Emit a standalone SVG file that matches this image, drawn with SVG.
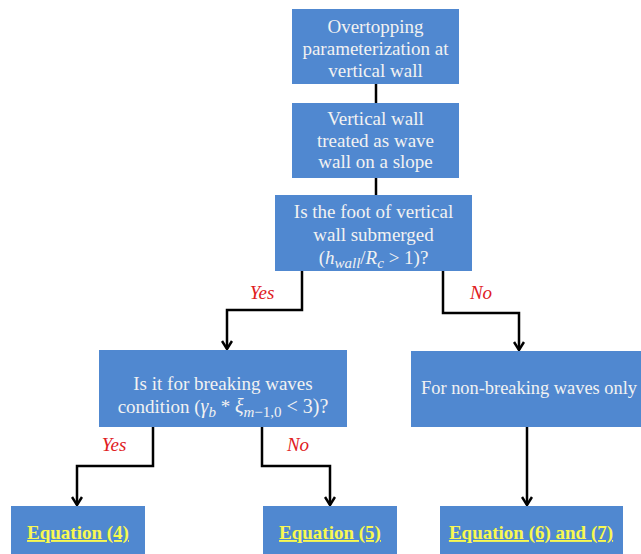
<svg xmlns="http://www.w3.org/2000/svg" width="641" height="554" viewBox="0 0 641 554">
<defs>
<style>
.box{fill:#5088D0;}
.t{font-family:"Liberation Serif","Times New Roman",serif;font-size:19px;fill:#F2F2F2;text-anchor:middle;}
.i{font-style:italic;}
.eq{font-family:"Liberation Serif","Times New Roman",serif;font-size:19px;font-weight:bold;fill:#F8F850;text-anchor:middle;text-decoration:underline;}
.lbl{font-family:"Liberation Serif","Times New Roman",serif;font-size:19px;font-style:italic;fill:#E0201E;text-anchor:middle;}
.c{fill:none;stroke:#000;stroke-width:2.5;}
</style>
<marker id="arr" viewBox="0 0 12 10" refX="6" refY="9" markerWidth="12" markerHeight="10" markerUnits="userSpaceOnUse" orient="0">
<path d="M1,1 L6,9 L11,1" fill="none" stroke="#000" stroke-width="2.5"/>
</marker>
</defs>
<rect width="641" height="554" fill="#fff"/>
<g id="connectors">
<line class="c" x1="376" y1="84" x2="376" y2="103"/>
<line class="c" x1="376" y1="178" x2="376" y2="195"/>
<path class="c" d="M302,271 V310 H227 V349" marker-end="url(#arr)"/>
<path class="c" d="M443,271 V313 H519 V350" marker-end="url(#arr)"/>
<path class="c" d="M153,427 V466 H77 V505" marker-end="url(#arr)"/>
<path class="c" d="M262,427 V466 H330 V505" marker-end="url(#arr)"/>
<path class="c" d="M527,427 V505" marker-end="url(#arr)"/>
<text class="lbl" x="262" y="299">Yes</text>
<text class="lbl" x="481" y="299">No</text>
<text class="lbl" x="114" y="451">Yes</text>
<text class="lbl" x="298" y="451">No</text>
</g>
<g id="n1">
<rect class="box" x="292" y="9" width="167" height="75"/>
<text class="t" x="375.5" y="33">Overtopping</text>
<text class="t" x="375.5" y="55">parameterization at</text>
<text class="t" x="375.5" y="77">vertical wall</text>
</g>
<g id="n2">
<rect class="box" x="292" y="103" width="167" height="75"/>
<text class="t" x="375.5" y="125">Vertical wall</text>
<text class="t" x="375.5" y="147">treated as wave</text>
<text class="t" x="375.5" y="168">wall on a slope</text>
</g>
<g id="n3">
<rect class="box" x="275" y="195" width="197" height="76"/>
<text class="t" x="373.5" y="218">Is the foot of vertical</text>
<text class="t" x="373.5" y="241">wall submerged</text>
<text class="t" x="373.5" y="264" font-size="20">(<tspan class="i">h</tspan><tspan class="i" font-size="15" dy="4">wall</tspan><tspan dy="-4">/</tspan><tspan class="i">R</tspan><tspan class="i" font-size="15" dy="4">c</tspan><tspan dy="-4"> &gt; 1)?</tspan></text>
</g>
<g id="n4">
<rect class="box" x="99" y="350" width="248" height="77"/>
<text class="t" x="223" y="390">Is it for breaking waves</text>
<text class="t" x="223" y="413">condition (<tspan class="i" font-size="20">γ</tspan><tspan class="i" font-size="15" dy="4">b</tspan><tspan dy="-4"> * </tspan><tspan class="i" font-size="20">ξ</tspan><tspan class="i" font-size="15" dy="4">m</tspan><tspan font-size="15">−1,0</tspan><tspan dy="-4" font-size="20"> &lt; 3)?</tspan></text>
</g>
<g id="n5">
<rect class="box" x="411" y="351" width="240" height="76"/>
<text class="t" x="421" y="394" style="text-anchor:start;font-size:18.4px">For non-breaking waves only</text>
</g>
<g id="n6">
<rect class="box" x="11" y="506" width="134" height="60"/>
<text class="eq" x="78" y="539">Equation (4)</text>
</g>
<g id="n7">
<rect class="box" x="263" y="506" width="134" height="60"/>
<text class="eq" x="330" y="539">Equation (5)</text>
</g>
<g id="n8">
<rect class="box" x="440" y="506" width="183" height="60"/>
<text class="eq" x="531" y="539">Equation (6) and (7)</text>
</g>
</svg>
